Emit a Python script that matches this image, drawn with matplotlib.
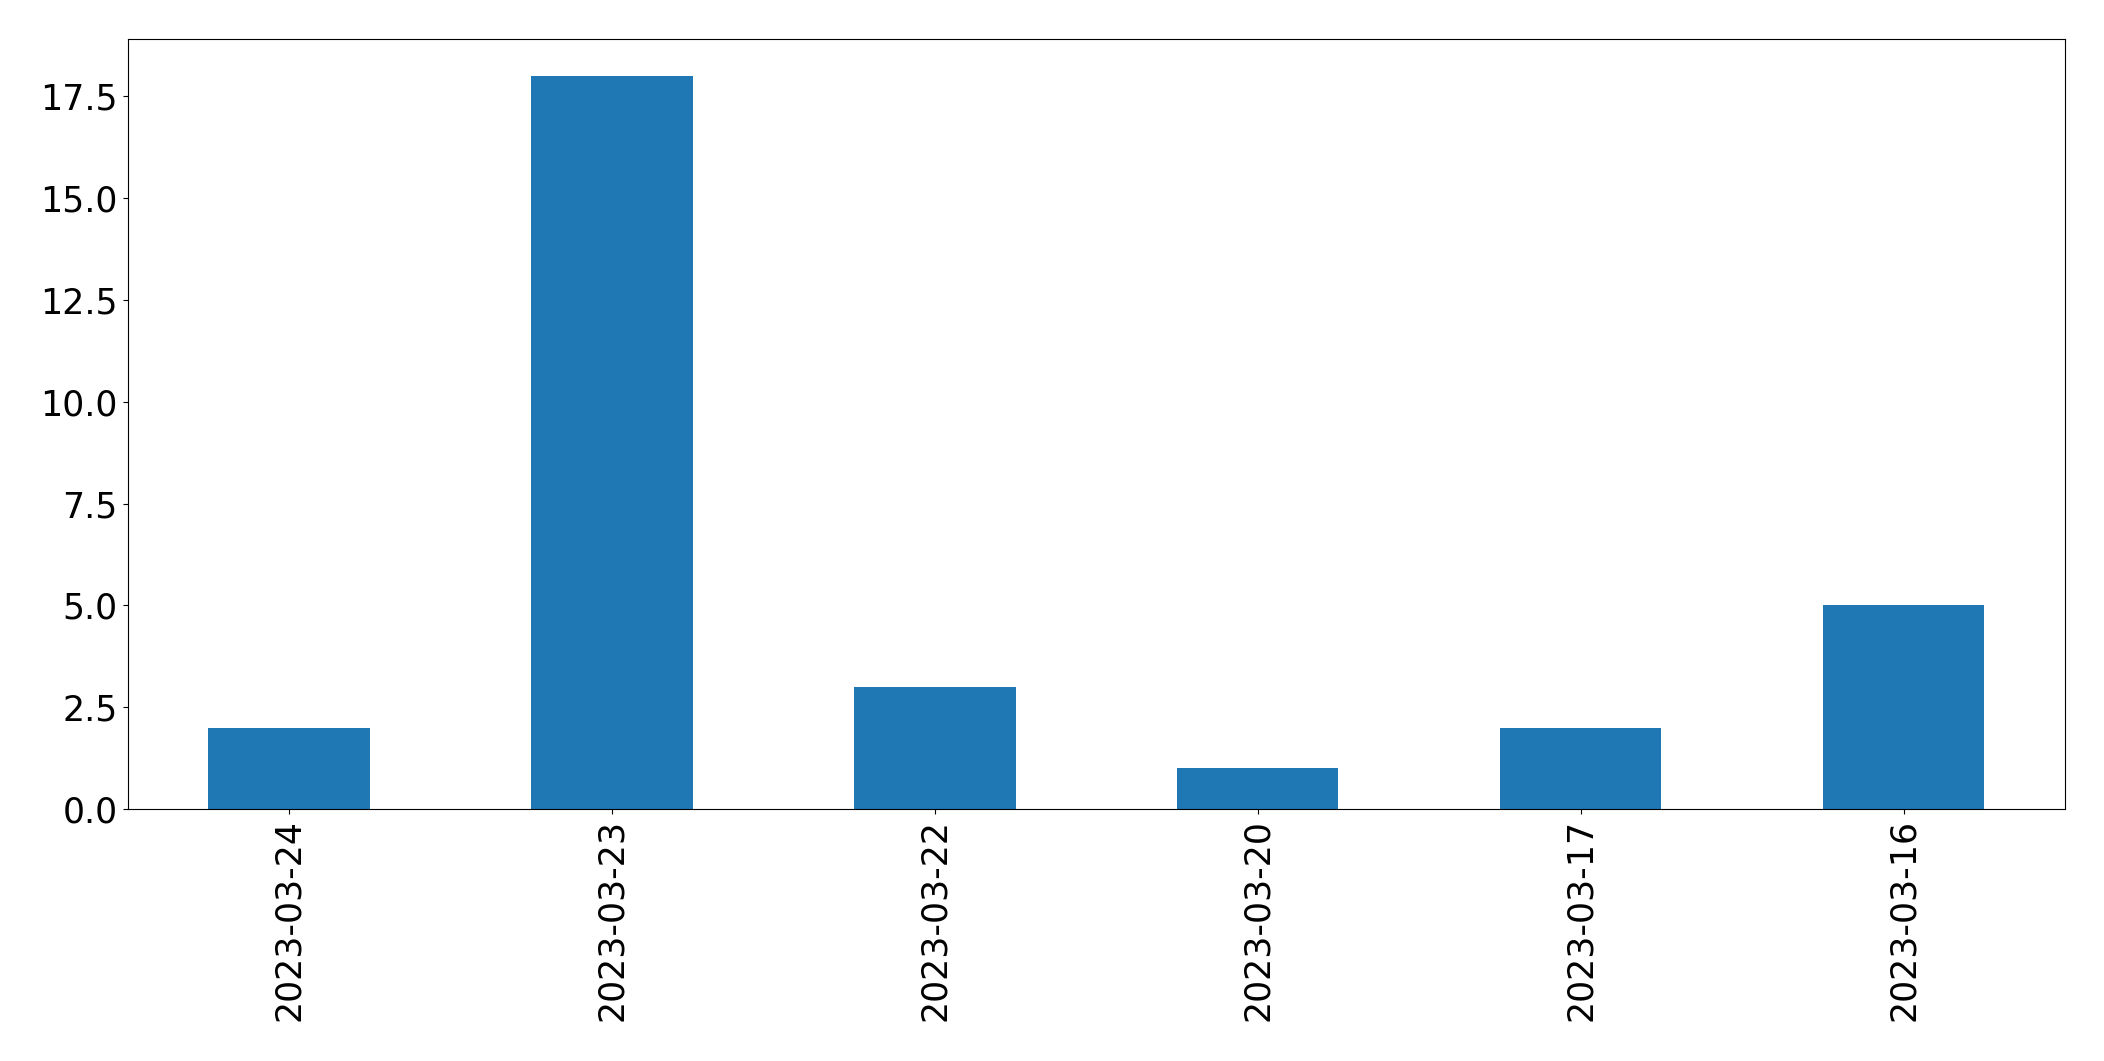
import matplotlib
matplotlib.use("Agg")
import matplotlib.pyplot as plt
import numpy as np

# counts per day, newest first
dates = ["2023-03-24", "2023-03-23", "2023-03-22", "2023-03-20", "2023-03-17", "2023-03-16"]
counts = [2, 18, 3, 1, 2, 5]

fig = plt.figure(figsize=(21.04, 10.61), dpi=100)
ax = fig.add_axes([0.0606, 0.2375, 0.9209, 0.7255])

x = np.arange(len(dates))
ax.bar(x, counts, width=0.5, color="#1f77b4")
ax.set_xlim(-0.5, len(dates) - 0.5)
ax.set_xticks(x)
ax.set_xticklabels(dates, rotation=90)
ax.tick_params(axis="both", labelsize=25)

fig.savefig("out.png", dpi=100)
